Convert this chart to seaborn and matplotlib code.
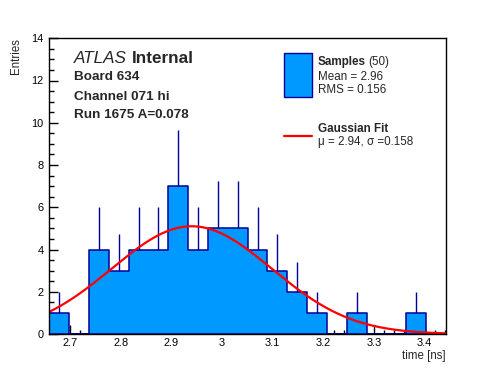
import numpy as np
import pandas as pd
import matplotlib
matplotlib.use("Agg")
import matplotlib.pyplot as plt
import seaborn as sns
from matplotlib.ticker import MultipleLocator, FuncFormatter
from matplotlib.patches import Rectangle
from matplotlib.lines import Line2D

# ---- data ----
x_min, x_max = 2.659, 3.442
n_bins = 20
counts = [1, 0, 4, 3, 4, 4, 7, 4, 5, 5, 4, 3, 2, 1, 0, 1, 0, 0, 1, 0]
fit_amp, fit_mu, fit_sigma = 5.1, 2.94, 0.158
header_lines = ["Board 634", "Channel 071 hi", "Run 1675 A=0.078"]
legend_samples = ["Mean = 2.96", "RMS = 0.156"]
legend_fit = "\u03bc = 2.94, \u03c3 =0.158"
n_samples = 50

sns.set_style("white")
plt.rcParams["font.family"] = ["Liberation Sans", "DejaVu Sans"]

W, H = 496, 372
fig = plt.figure(figsize=(W / 100, H / 100), dpi=100)
ax = fig.add_axes([49.3 / W, 1 - 334 / H, (446 - 49.3) / W, (334 - 38.25) / H])

edges = np.linspace(x_min, x_max, n_bins + 1)
centers = 0.5 * (edges[:-1] + edges[1:])
df = pd.DataFrame({"t": centers, "n": counts})

fill_c = "#0099ff"
navy = "#000099"
sns.histplot(data=df, x="t", weights="n", bins=[float(e) for e in edges], element="step",
             fill=True, color=fill_c, alpha=1, edgecolor=navy, linewidth=1.1, ax=ax, zorder=2)

cnt = np.array(counts, dtype=float)
nz = cnt > 0
ax.errorbar(centers[nz], cnt[nz], yerr=[np.zeros(nz.sum()), np.sqrt(cnt[nz])],
            fmt="none", ecolor=navy, elinewidth=1.0, capsize=0, zorder=3)

xf = np.linspace(x_min, x_max, 400)
yf = fit_amp * np.exp(-0.5 * ((xf - fit_mu) / fit_sigma) ** 2)
sns.lineplot(x=xf, y=yf, color="red", linewidth=1.6, ax=ax, zorder=4)

ax.set_xlim(x_min, x_max)
ax.set_ylim(0, 14)
ax.set_xlabel("")
ax.set_ylabel("")
for s in ax.spines.values():
    s.set_visible(True)
    s.set_color("black")
    s.set_linewidth(1.0)
    s.set_zorder(5)

ax.xaxis.set_major_locator(MultipleLocator(0.1))
ax.xaxis.set_minor_locator(MultipleLocator(0.02))
ax.yaxis.set_major_locator(MultipleLocator(2))
ax.yaxis.set_minor_locator(MultipleLocator(0.5))
ax.xaxis.set_major_formatter(FuncFormatter(lambda v, p: "%g" % round(v, 2)))
ax.yaxis.set_major_formatter(FuncFormatter(lambda v, p: "%g" % v))
ax.tick_params(axis="both", which="both", direction="in", top=False, right=False,
               bottom=True, left=True,
               color="black", width=1.0, labelsize=7.9, labelcolor="black")
ax.tick_params(axis="x", which="major", length=6.5, pad=3)
ax.tick_params(axis="x", which="minor", length=3.2)
ax.tick_params(axis="y", which="major", length=6.5, pad=4)
ax.tick_params(axis="y", which="minor", length=3.8)

def fx(px):
    return px / W

def fy(py):
    return 1 - py / H

fig.text(fx(446), fy(359.5), "time [ns]", ha="right", va="baseline", fontsize=8.3)
fig.text(fx(22), fy(38), "Entries", ha="right", va="bottom", rotation=90,
         rotation_mode="anchor", fontsize=8.3)

# header
t1 = fig.text(fx(74), fy(63.3), "ATLAS", fontstyle="italic", fontsize=12.3, va="baseline")
fig.canvas.draw()
bb = t1.get_window_extent()
fig.text(bb.x1 / W + 5 / W, fy(63.3), "Internal", fontweight="bold", fontsize=12.3, va="baseline")
for line, yb in zip(header_lines, [80.0, 99.5, 118.3]):
    fig.text(fx(74), fy(yb), line, fontweight="bold", fontsize=9.7, va="baseline")

# legend
fig.patches.append(Rectangle((fx(283.5), fy(96.7)), (311.7 - 283.5) / W, (96.7 - 53.3) / H,
                             transform=fig.transFigure, facecolor=fill_c, edgecolor=navy,
                             linewidth=1.0))
fig.lines.append(Line2D([fx(283.5), fx(311.7)], [fy(136), fy(136)], transform=fig.transFigure,
                        color="red", linewidth=1.6))
ts = fig.text(fx(317.7), fy(65), "Samples", fontweight="bold", fontsize=8.4, va="baseline")
fig.canvas.draw()
bb = ts.get_window_extent()
fig.text(bb.x1 / W + 2.5 / W, fy(65), "(%d)" % n_samples, fontsize=8.4, va="baseline")
for line, yb in zip(legend_samples, [79.5, 93.3]):
    fig.text(fx(317.7), fy(yb), line, fontsize=8.4, va="baseline")
fig.text(fx(317.7), fy(131.7), "Gaussian Fit", fontweight="bold", fontsize=8.4, va="baseline")
fig.text(fx(317.7), fy(144.5), legend_fit, fontsize=8.4, va="baseline")

fig.savefig("out.png", dpi=100, facecolor="white")
